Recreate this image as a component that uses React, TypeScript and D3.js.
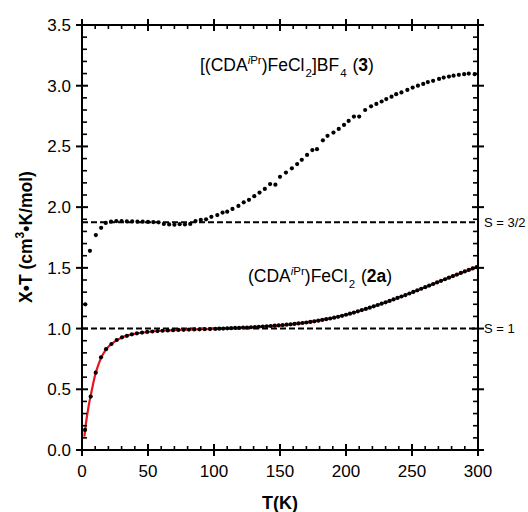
import React from "react";
import * as d3 from "d3";

// [(CDA^iPr)FeCl2]BF4 (3)  -- [T (K), chi*T]
const complex3: [number, number][] = [
  [2.5, 1.2], [6, 1.64], [10.5, 1.77], [14.5, 1.83], [18, 1.87],
  [22, 1.88], [26, 1.885], [30, 1.885], [34, 1.882], [38, 1.882],
  [42, 1.88], [46, 1.88], [50, 1.878], [54, 1.877], [58, 1.875],
  [62, 1.862], [66, 1.858], [70, 1.855], [74, 1.86], [78, 1.858],
  [82, 1.862], [86, 1.885], [90, 1.895], [94, 1.9], [98, 1.92],
  [102.5, 1.935], [106.5, 1.955], [110, 1.963], [114, 1.985], [118.5, 2.01],
  [122.5, 2.04], [126.5, 2.06], [130.5, 2.09], [134.5, 2.12], [138.5, 2.15],
  [142.5, 2.19], [146.5, 2.185], [150, 2.25], [154.5, 2.285], [159, 2.32],
  [163, 2.355], [166.5, 2.39], [170.5, 2.43], [174.5, 2.47], [178, 2.477],
  [182.5, 2.55], [186, 2.587], [190.5, 2.614], [194.5, 2.644], [198.5, 2.677],
  [202, 2.71], [206, 2.746], [210, 2.746], [214.5, 2.8], [219, 2.83],
  [223, 2.85], [227, 2.87], [230.5, 2.89], [234.5, 2.91], [238, 2.93],
  [242, 2.945], [246.5, 2.965], [250.5, 2.985], [254.5, 3.0], [258.5, 3.015],
  [262, 3.03], [266, 3.04], [270.5, 3.056], [274, 3.067], [278, 3.075],
  [281.5, 3.083], [285.5, 3.09], [289.5, 3.095], [293, 3.1], [297.5, 3.095],
];

// (CDA^iPr)FeCl2 (2a)
const complex2a: [number, number][] = [
  [2.3, 0.165], [6.6, 0.44], [10.4, 0.637], [14.4, 0.763], [18.2, 0.83],
  [22.3, 0.873], [26.3, 0.906], [30.3, 0.928], [34, 0.94], [37.8, 0.953],
  [41.6, 0.961], [45.5, 0.967], [49.4, 0.972], [53.3, 0.976], [57.2, 0.979],
  [61, 0.982], [65, 0.985], [69, 0.987], [73, 0.989], [77, 0.99],
  [81, 0.992], [85, 0.993], [89, 0.994], [93, 0.995], [97, 0.996],
  [101, 0.997], [104, 0.999], [107, 1.0], [110, 1.002], [113, 1.003],
  [116, 1.005], [119, 1.006], [122, 1.008], [125, 1.009], [128, 1.011],
  [131, 1.013], [134, 1.015], [137, 1.017], [140, 1.019], [143, 1.021],
  [146, 1.024], [149, 1.026], [152, 1.029], [155, 1.032], [158, 1.035],
  [161, 1.038], [164, 1.042], [167, 1.046], [170, 1.05], [173, 1.055],
  [176, 1.06], [179, 1.065], [182, 1.071], [185, 1.077], [188, 1.083],
  [191, 1.09], [194, 1.097], [197, 1.105], [200, 1.114], [203, 1.123],
  [206, 1.132], [209, 1.142], [212, 1.152], [215, 1.162], [218, 1.172],
  [221, 1.183], [224, 1.194], [227, 1.205], [230, 1.216], [233, 1.228],
  [236, 1.24], [239, 1.252], [242, 1.264], [245, 1.276], [248, 1.289],
  [251, 1.302], [254, 1.315], [257, 1.328], [260, 1.341], [263, 1.354],
  [266, 1.367], [269, 1.38], [272, 1.393], [275, 1.406], [278, 1.419],
  [281, 1.432], [284, 1.445], [287, 1.458], [290, 1.471], [293, 1.483],
  [296, 1.495], [299, 1.506],
];

// fit through 2a (red line)
const fit2a: [number, number][] = [
  [1.8, 0.11], [3, 0.22], [5, 0.36], [7, 0.47], [10, 0.62], [13, 0.72],
  [16, 0.79], [20, 0.85], [25, 0.895], [30, 0.925], [40, 0.957], [50, 0.972],
  [60, 0.982], [80, 0.991], [100, 0.998], [120, 1.006], [140, 1.019],
  [160, 1.037], [180, 1.067], [200, 1.114], [220, 1.18], [240, 1.256],
  [260, 1.341], [280, 1.428], [300, 1.51],
];

const spinLines = [
  { value: 1.875, label: "S = 3/2" },
  { value: 1.0, label: "S = 1" },
];

const W = 528;
const H = 512;
const left = 82, right = 478, top = 25, bottom = 450;
const font = "'Liberation Sans', Arial, sans-serif";

export default function App() {
  const x = d3.scaleLinear().domain([0, 300]).range([left, right]);
  const y = d3.scaleLinear().domain([0, 3.5]).range([bottom, top]);

  const xMajor = x.ticks(6);
  const xMinor = d3.range(0, 301, 10).filter((t) => t % 50 !== 0);
  const yMajor = y.ticks(7);
  const yMinor = d3.range(0, 36).map((i) => i / 10).filter((_, i) => i % 5 !== 0);

  const fitLine = d3
    .line<[number, number]>()
    .x((d) => x(d[0]))
    .y((d) => y(d[1]))
    .curve(d3.curveMonotoneX)(fit2a);

  return (
    <svg
      width={W}
      height={H}
      style={{ position: "absolute", left: 0, top: 0, background: "#fff" }}
      fontFamily={font}
    >
      {/* reference lines */}
      {spinLines.map((s) => (
        <g key={s.label}>
          <line
            x1={left}
            x2={right}
            y1={y(s.value)}
            y2={y(s.value)}
            stroke="#000"
            strokeWidth={2}
            strokeDasharray="6,3"
          />
          <text x={right + 6} y={y(s.value)} dy="0.35em" fontSize={13}>
            {s.label}
          </text>
        </g>
      ))}

      {/* fit */}
      <path d={fitLine || ""} fill="none" stroke="#e8141b" strokeWidth={2.2} />

      {/* data */}
      {complex3.map((d, i) => (
        <circle key={"a" + i} cx={x(d[0])} cy={y(d[1])} r={2.1} fill="#000" />
      ))}
      {complex2a.map((d, i) => (
        <circle key={"b" + i} cx={x(d[0])} cy={y(d[1])} r={2.1} fill="#000" />
      ))}

      {/* frame */}
      <rect
        x={left}
        y={top}
        width={right - left}
        height={bottom - top}
        fill="none"
        stroke="#000"
        strokeWidth={2}
      />

      {/* x ticks */}
      {xMajor.map((t) => (
        <g key={"xM" + t}>
          <line x1={x(t)} x2={x(t)} y1={bottom - 6} y2={bottom + 6} stroke="#000" strokeWidth={2} />
          <line x1={x(t)} x2={x(t)} y1={top - 6} y2={top + 6} stroke="#000" strokeWidth={2} />
          <text x={x(t)} y={bottom + 27} textAnchor="middle" fontSize={17}>
            {t}
          </text>
        </g>
      ))}
      {xMinor.map((t) => (
        <g key={"xm" + t}>
          <line x1={x(t)} x2={x(t)} y1={bottom} y2={bottom - 4} stroke="#000" strokeWidth={1.6} />
          <line x1={x(t)} x2={x(t)} y1={top} y2={top + 4} stroke="#000" strokeWidth={1.6} />
        </g>
      ))}

      {/* y ticks */}
      {yMajor.map((t) => (
        <g key={"yM" + t}>
          <line x1={left - 6} x2={left + 6} y1={y(t)} y2={y(t)} stroke="#000" strokeWidth={2} />
          <line x1={right - 6} x2={right + 6} y1={y(t)} y2={y(t)} stroke="#000" strokeWidth={2} />
          <text x={left - 11} y={y(t)} dy="0.35em" textAnchor="end" fontSize={17}>
            {d3.format(".1f")(t)}
          </text>
        </g>
      ))}
      {yMinor.map((t) => (
        <g key={"ym" + t}>
          <line x1={left} x2={left + 5} y1={y(t)} y2={y(t)} stroke="#000" strokeWidth={1.6} />
          <line x1={right} x2={right - 5} y1={y(t)} y2={y(t)} stroke="#000" strokeWidth={1.6} />
        </g>
      ))}

      {/* axis titles */}
      <text x={(left + right) / 2} y={509} textAnchor="middle" fontSize={18} fontWeight="bold">
        T(K)
      </text>
      <text
        transform="translate(32,237) rotate(-90)"
        textAnchor="middle"
        fontSize={17.5}
        fontWeight="bold"
      >
        X•T (cm<tspan dy={-8} fontSize={12}>3</tspan>
        <tspan dy={8}>•K/mol)</tspan>
      </text>

      {/* series labels */}
      <text x={200} y={71} fontSize={17.5}>
        [(CDA<tspan dy={-7} fontSize={11.5} fontStyle="italic">i</tspan>
        <tspan fontSize={11.5}>Pr</tspan>
        <tspan dy={7}>)FeCl</tspan>
        <tspan dx={1} dy={6} fontSize={11.5}>2</tspan>
        <tspan dy={-6}>]BF</tspan>
        <tspan dx={1} dy={6} fontSize={11.5}>4</tspan>
        <tspan dx={1} dy={-6}> (</tspan>
        <tspan fontWeight="bold">3</tspan>
        <tspan>)</tspan>
      </text>
      <text x={248} y={282} fontSize={17.5}>
        (CDA<tspan dy={-7} fontSize={11.5} fontStyle="italic">i</tspan>
        <tspan fontSize={11.5}>Pr</tspan>
        <tspan dy={7}>)FeCl</tspan>
        <tspan dx={1} dy={6} fontSize={11.5}>2</tspan>
        <tspan dx={1} dy={-6}> (</tspan>
        <tspan fontWeight="bold">2a</tspan>
        <tspan>)</tspan>
      </text>
    </svg>
  );
}
